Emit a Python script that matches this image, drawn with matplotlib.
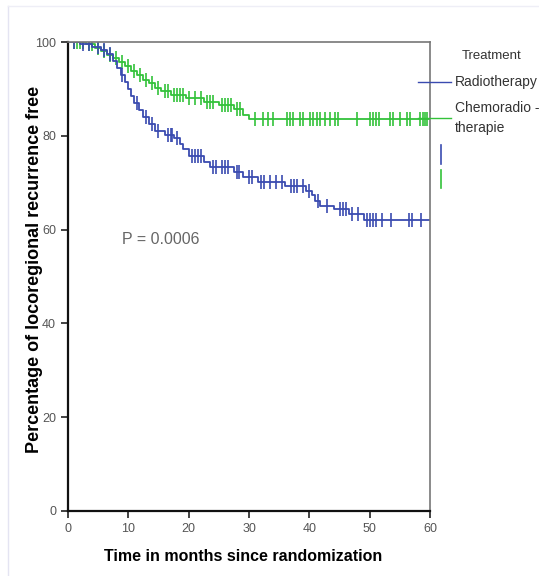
import numpy as np
import matplotlib.pyplot as plt
from matplotlib.lines import Line2D

# Kaplan-Meier step data (months, % free)
rt_times = [0, 2, 4, 5.5, 6.5, 7.5, 8.2, 8.8, 9.5, 10, 10.5, 11, 11.8, 12.5, 13.5,
            14.5, 16, 17.5, 18.5, 19, 20, 22.5, 23.5, 27.5, 29, 31.5, 36, 39.5,
            40.5, 41, 41.8, 44, 46.5, 49, 60]
rt_surv = [100, 99.5, 99, 98.3, 97.5, 96, 94.5, 93, 91.5, 90, 88.5, 87, 85.5, 84,
           82.5, 81, 80.2, 79.5, 78.3, 77.2, 75.8, 74.5, 73.3, 72.2, 71.2, 70.2,
           69.3, 68.3, 67.3, 66.2, 65, 64.3, 63.3, 62.0, 62.0]
rt_censor = [1, 2.5, 3.5, 5, 6, 7, 9, 11.5, 13, 14, 15, 16.5, 17, 17.3, 18, 20.5, 21,
             21.5, 22, 24, 24.5, 25.5, 26, 26.5, 28, 28.3, 30, 30.5, 32, 32.5, 33.5,
             34.5, 35.5, 37, 37.5, 38, 39, 40, 41.5, 43, 45, 45.5, 46, 47, 48, 49.5,
             50, 50.5, 51, 52, 53.5, 56.5, 57, 58.5]

crt_times = [0, 3, 4.5, 5.5, 6.5, 7.5, 8.5, 9.5, 10.5, 11.5, 12.5, 13.5, 14.5, 15.5,
             17, 19.5, 22.5, 25, 27.5, 29, 30, 60]
crt_surv = [100, 99.5, 98.8, 98, 97.3, 96.5, 95.7, 94.8, 93.8, 93, 92, 91.2, 90.3,
            89.5, 88.7, 88, 87.3, 86.5, 85.7, 84.5, 83.6, 83.6]
crt_censor = [1, 1.5, 2, 2.5, 3.5, 4, 5, 6, 7, 8, 9, 10, 11, 12, 13, 14, 15, 16, 16.5,
              17.5, 18, 18.5, 19, 20, 21, 22, 23, 23.5, 24, 25.5, 26, 26.5, 27, 28,
              28.5, 31, 32.3, 33.2, 34, 36.3, 36.8, 37.3, 38.5, 39, 40.1, 40.6, 41.3,
              41.8, 42.6, 43.4, 44.3, 44.8, 47.9, 50, 50.5, 51, 51.5, 53.4, 53.9, 55,
              56.2, 56.7, 58.4, 58.8, 59.2, 59.5]

blue = '#3a4bb0'
green = '#33c23a'

plt.rcParams['font.family'] = ['Liberation Sans', 'DejaVu Sans']

fig = plt.figure(figsize=(5.39, 5.76), dpi=100)
ax = fig.add_axes([0.126, 0.113, 0.672, 0.814])


def km(times, surv, censor, color):
    ax.step(times, surv, where='post', color=color, lw=1.3)
    idx = np.searchsorted(times, censor, side='right') - 1
    ax.plot(censor, np.array(surv)[idx], ls='none', marker='|', ms=10, mew=1.4,
            color=color, alpha=0.85)


km(crt_times, crt_surv, crt_censor, green)
km(rt_times, rt_surv, rt_censor, blue)

ax.set_xlim(0, 60)
ax.set_ylim(0, 100)
ax.set_xticks(range(0, 61, 10))
ax.set_yticks(range(0, 101, 20))
ax.tick_params(direction='out', length=5, width=1.2, labelsize=9, labelcolor='#555555', color='#222222')
for s in ['left', 'bottom']:
    ax.spines[s].set_linewidth(1.6)
    ax.spines[s].set_color('#111111')
for s in ['top', 'right']:
    ax.spines[s].set_linewidth(1.2)
    ax.spines[s].set_color('#777777')

ax.set_xlabel('Time in months since randomization', fontsize=11.5, fontweight='bold')
ax.xaxis.set_label_coords(0.485, -0.082)
ax.set_ylabel('Percentage of locoregional recurrence free', fontsize=13, fontweight='bold')
ax.yaxis.set_label_coords(-0.07, 0.515)

ax.text(9, 57, 'P = 0.0006', fontsize=11.5, color='#666666')

# legend
fig.text(462 / 539, 1 - 56 / 576, 'Treatment', fontsize=9.5, color='#333333', va='center')
fig.add_artist(Line2D([418 / 539, 451 / 539], [1 - 82 / 576] * 2, color=blue, lw=1.0))
fig.text(455 / 539, 1 - 82 / 576, 'Radiotherapy', fontsize=10, color='#333333', va='center')
fig.add_artist(Line2D([418 / 539, 451 / 539], [1 - 118 / 576] * 2, color=green, lw=1.0))
fig.text(455 / 539, 1 - 108 / 576, 'Chemoradio -', fontsize=10, color='#333333', va='center')
fig.text(455 / 539, 1 - 128 / 576, 'therapie', fontsize=10, color='#333333', va='center')
fig.add_artist(Line2D([441 / 539] * 2, [1 - 145 / 576, 1 - 164 / 576], color=blue, lw=1.2))
fig.add_artist(Line2D([441 / 539] * 2, [1 - 170 / 576, 1 - 188 / 576], color=green, lw=1.2))

# faint frame of the original screenshot
fig.add_artist(Line2D([8 / 539] * 2, [0, 1 - 6 / 576], color='#e4e4f2', lw=1.0))
fig.add_artist(Line2D([8 / 539, 1], [1 - 6 / 576] * 2, color='#eeeef6', lw=1.0))

fig.savefig('out.png', dpi=100)
